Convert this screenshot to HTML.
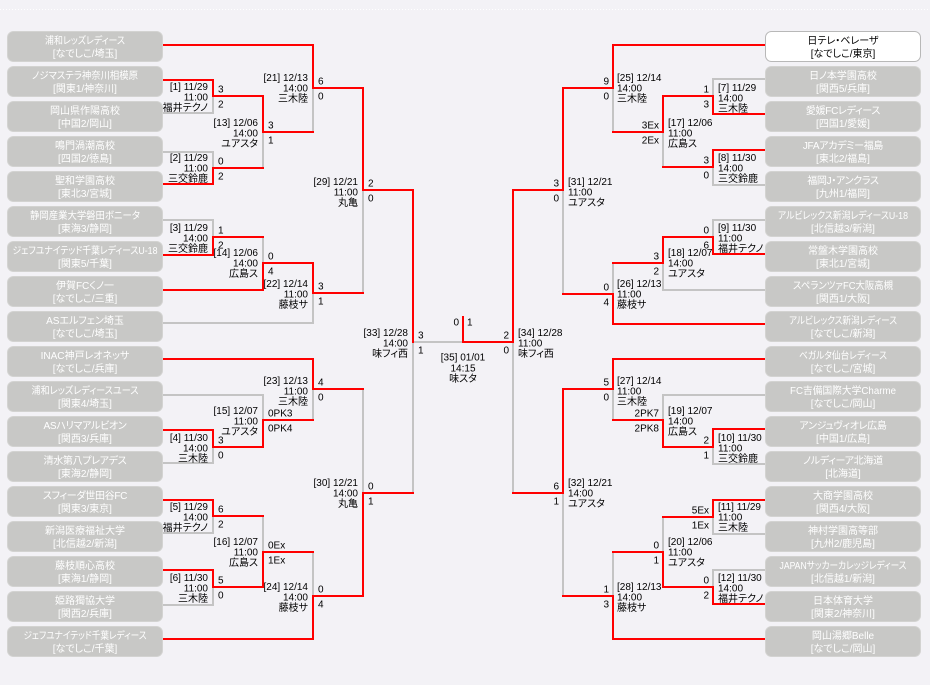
<!DOCTYPE html>
<html><head><meta charset="utf-8">
<style>
html,body{margin:0;padding:0;background:#f3f2f6;}
svg{display:block;}
text{font-family:"Liberation Sans","Noto Sans CJK JP",sans-serif;font-size:10px;fill:#000;font-feature-settings:"palt" 1;}
.e{text-anchor:end}.m{text-anchor:middle}
.t{fill:#fff;text-anchor:middle}
.c{fill:#000;text-anchor:middle}
.g{stroke:#c4c4c4;stroke-width:2;stroke-linecap:square}
.r{stroke:#ff0000;stroke-width:2;stroke-linecap:square}
.bx{fill:#c8c8c6;stroke:#d3d3d1;stroke-width:1}
</style></head><body>
<svg width="930" height="685" viewBox="0 0 930 685" shape-rendering="crispEdges">
<line x1="0" y1="9.5" x2="930" y2="9.5" stroke="#ffffff" stroke-dasharray="1 2" stroke-width="1"/>
<g class="g">
<line x1="163" y1="113" x2="213" y2="113"/><line x1="213" y1="96" x2="213" y2="113"/>
<line x1="163" y1="152" x2="213" y2="152"/><line x1="213" y1="152" x2="213" y2="168"/>
<line x1="163" y1="220" x2="213" y2="220"/><line x1="213" y1="220" x2="213" y2="237"/>
<line x1="163" y1="463" x2="213" y2="463"/><line x1="213" y1="447" x2="213" y2="463"/>
<line x1="163" y1="533" x2="213" y2="533"/><line x1="213" y1="516" x2="213" y2="533"/>
<line x1="163" y1="605" x2="213" y2="605"/><line x1="213" y1="587" x2="213" y2="605"/>
<line x1="263" y1="132" x2="263" y2="168"/>
<line x1="263" y1="237" x2="263" y2="263"/>
<line x1="163" y1="395" x2="263" y2="395"/><line x1="263" y1="395" x2="263" y2="420"/>
<line x1="263" y1="516" x2="263" y2="552"/>
<line x1="313" y1="88" x2="313" y2="132"/>
<line x1="163" y1="323" x2="313" y2="323"/><line x1="313" y1="293" x2="313" y2="323"/>
<line x1="313" y1="389" x2="313" y2="420"/>
<line x1="313" y1="552" x2="313" y2="596"/>
<line x1="363" y1="190" x2="363" y2="293"/>
<line x1="363" y1="389" x2="363" y2="493"/>
<line x1="413" y1="342" x2="413" y2="493"/>
<line x1="413" y1="342" x2="463" y2="342"/>
</g>
<g class="g">
<line x1="713" y1="79" x2="765" y2="79"/><line x1="713" y1="79" x2="713" y2="96"/>
<line x1="713" y1="185" x2="765" y2="185"/><line x1="713" y1="167" x2="713" y2="185"/>
<line x1="713" y1="220" x2="765" y2="220"/><line x1="713" y1="220" x2="713" y2="237"/>
<line x1="713" y1="464" x2="765" y2="464"/><line x1="713" y1="447" x2="713" y2="464"/>
<line x1="713" y1="534" x2="765" y2="534"/><line x1="713" y1="517" x2="713" y2="534"/>
<line x1="713" y1="570" x2="765" y2="570"/><line x1="713" y1="570" x2="713" y2="587"/>
<line x1="663" y1="132" x2="663" y2="167"/>
<line x1="663" y1="290" x2="765" y2="290"/><line x1="663" y1="263" x2="663" y2="290"/>
<line x1="663" y1="395" x2="765" y2="395"/><line x1="663" y1="395" x2="663" y2="420"/>
<line x1="663" y1="517" x2="663" y2="552"/>
<line x1="613" y1="88" x2="613" y2="132"/>
<line x1="613" y1="263" x2="613" y2="294"/>
<line x1="613" y1="389" x2="613" y2="420"/>
<line x1="613" y1="552" x2="613" y2="596"/>
<line x1="563" y1="190" x2="563" y2="294"/>
<line x1="563" y1="493" x2="563" y2="596"/>
<line x1="513" y1="342" x2="513" y2="493"/>
</g>
<g class="r">
<line x1="163" y1="80" x2="213" y2="80"/><line x1="213" y1="80" x2="213" y2="96"/><line x1="213" y1="96" x2="263" y2="96"/>
<line x1="163" y1="184" x2="213" y2="184"/><line x1="213" y1="168" x2="213" y2="184"/><line x1="213" y1="168" x2="263" y2="168"/>
<line x1="163" y1="255" x2="213" y2="255"/><line x1="213" y1="237" x2="213" y2="255"/><line x1="213" y1="237" x2="263" y2="237"/>
<line x1="163" y1="430" x2="213" y2="430"/><line x1="213" y1="430" x2="213" y2="447"/><line x1="213" y1="447" x2="263" y2="447"/>
<line x1="163" y1="500" x2="213" y2="500"/><line x1="213" y1="500" x2="213" y2="516"/><line x1="213" y1="516" x2="263" y2="516"/>
<line x1="163" y1="570" x2="213" y2="570"/><line x1="213" y1="570" x2="213" y2="587"/><line x1="213" y1="587" x2="263" y2="587"/>
<line x1="263" y1="96" x2="263" y2="132"/><line x1="263" y1="132" x2="313" y2="132"/>
<line x1="163" y1="290" x2="263" y2="290"/><line x1="263" y1="263" x2="263" y2="290"/><line x1="263" y1="263" x2="313" y2="263"/>
<line x1="263" y1="420" x2="263" y2="447"/><line x1="263" y1="420" x2="313" y2="420"/>
<line x1="263" y1="552" x2="263" y2="587"/><line x1="263" y1="552" x2="313" y2="552"/>
<line x1="163" y1="45" x2="313" y2="45"/><line x1="313" y1="45" x2="313" y2="88"/><line x1="313" y1="88" x2="363" y2="88"/>
<line x1="313" y1="263" x2="313" y2="293"/><line x1="313" y1="293" x2="363" y2="293"/>
<line x1="163" y1="359" x2="313" y2="359"/><line x1="313" y1="359" x2="313" y2="389"/><line x1="313" y1="389" x2="363" y2="389"/>
<line x1="163" y1="639" x2="313" y2="639"/><line x1="313" y1="596" x2="313" y2="639"/><line x1="313" y1="596" x2="363" y2="596"/>
<line x1="363" y1="88" x2="363" y2="190"/><line x1="363" y1="190" x2="413" y2="190"/>
<line x1="363" y1="493" x2="363" y2="596"/><line x1="363" y1="493" x2="413" y2="493"/>
<line x1="413" y1="190" x2="413" y2="342"/>
<line x1="463" y1="342" x2="513" y2="342"/><line x1="463" y1="317" x2="463" y2="342"/>
</g>
<g class="r">
<line x1="713" y1="114" x2="765" y2="114"/><line x1="713" y1="96" x2="713" y2="114"/><line x1="663" y1="96" x2="713" y2="96"/>
<line x1="713" y1="150" x2="765" y2="150"/><line x1="713" y1="150" x2="713" y2="167"/><line x1="663" y1="167" x2="713" y2="167"/>
<line x1="713" y1="254" x2="765" y2="254"/><line x1="713" y1="237" x2="713" y2="254"/><line x1="663" y1="237" x2="713" y2="237"/>
<line x1="713" y1="429" x2="765" y2="429"/><line x1="713" y1="429" x2="713" y2="447"/><line x1="663" y1="447" x2="713" y2="447"/>
<line x1="713" y1="500" x2="765" y2="500"/><line x1="713" y1="500" x2="713" y2="517"/><line x1="663" y1="517" x2="713" y2="517"/>
<line x1="713" y1="604" x2="765" y2="604"/><line x1="713" y1="587" x2="713" y2="604"/><line x1="663" y1="587" x2="713" y2="587"/>
<line x1="663" y1="96" x2="663" y2="132"/><line x1="613" y1="132" x2="663" y2="132"/>
<line x1="663" y1="237" x2="663" y2="263"/><line x1="613" y1="263" x2="663" y2="263"/>
<line x1="663" y1="420" x2="663" y2="447"/><line x1="613" y1="420" x2="663" y2="420"/>
<line x1="663" y1="552" x2="663" y2="587"/><line x1="613" y1="552" x2="663" y2="552"/>
<line x1="613" y1="45" x2="765" y2="45"/><line x1="613" y1="45" x2="613" y2="88"/><line x1="563" y1="88" x2="613" y2="88"/>
<line x1="613" y1="324" x2="765" y2="324"/><line x1="613" y1="294" x2="613" y2="324"/><line x1="563" y1="294" x2="613" y2="294"/>
<line x1="613" y1="359" x2="765" y2="359"/><line x1="613" y1="359" x2="613" y2="389"/><line x1="563" y1="389" x2="613" y2="389"/>
<line x1="613" y1="639" x2="765" y2="639"/><line x1="613" y1="596" x2="613" y2="639"/><line x1="563" y1="596" x2="613" y2="596"/>
<line x1="563" y1="88" x2="563" y2="190"/><line x1="513" y1="190" x2="563" y2="190"/>
<line x1="563" y1="389" x2="563" y2="493"/><line x1="513" y1="493" x2="563" y2="493"/>
<line x1="513" y1="190" x2="513" y2="342"/>
</g>

<g shape-rendering="auto">
<rect class="bx" x="7.5" y="31.5" width="155" height="30" rx="6"/>
<rect class="bx" x="7.5" y="66.5" width="155" height="30" rx="6"/>
<rect class="bx" x="7.5" y="101.5" width="155" height="30" rx="6"/>
<rect class="bx" x="7.5" y="136.5" width="155" height="30" rx="6"/>
<rect class="bx" x="7.5" y="171.5" width="155" height="30" rx="6"/>
<rect class="bx" x="7.5" y="206.5" width="155" height="30" rx="6"/>
<rect class="bx" x="7.5" y="241.5" width="155" height="30" rx="6"/>
<rect class="bx" x="7.5" y="276.5" width="155" height="30" rx="6"/>
<rect class="bx" x="7.5" y="311.5" width="155" height="30" rx="6"/>
<rect class="bx" x="7.5" y="346.5" width="155" height="30" rx="6"/>
<rect class="bx" x="7.5" y="381.5" width="155" height="30" rx="6"/>
<rect class="bx" x="7.5" y="416.5" width="155" height="30" rx="6"/>
<rect class="bx" x="7.5" y="451.5" width="155" height="30" rx="6"/>
<rect class="bx" x="7.5" y="486.5" width="155" height="30" rx="6"/>
<rect class="bx" x="7.5" y="521.5" width="155" height="30" rx="6"/>
<rect class="bx" x="7.5" y="556.5" width="155" height="30" rx="6"/>
<rect class="bx" x="7.5" y="591.5" width="155" height="30" rx="6"/>
<rect class="bx" x="7.5" y="626.5" width="155" height="30" rx="6"/>
<rect x="765.5" y="31.5" width="155" height="30" rx="6" fill="#ffffff" stroke="#b8b8b8" stroke-width="1"/>
<rect class="bx" x="765.5" y="66.5" width="155" height="30" rx="6"/>
<rect class="bx" x="765.5" y="101.5" width="155" height="30" rx="6"/>
<rect class="bx" x="765.5" y="136.5" width="155" height="30" rx="6"/>
<rect class="bx" x="765.5" y="171.5" width="155" height="30" rx="6"/>
<rect class="bx" x="765.5" y="206.5" width="155" height="30" rx="6"/>
<rect class="bx" x="765.5" y="241.5" width="155" height="30" rx="6"/>
<rect class="bx" x="765.5" y="276.5" width="155" height="30" rx="6"/>
<rect class="bx" x="765.5" y="311.5" width="155" height="30" rx="6"/>
<rect class="bx" x="765.5" y="346.5" width="155" height="30" rx="6"/>
<rect class="bx" x="765.5" y="381.5" width="155" height="30" rx="6"/>
<rect class="bx" x="765.5" y="416.5" width="155" height="30" rx="6"/>
<rect class="bx" x="765.5" y="451.5" width="155" height="30" rx="6"/>
<rect class="bx" x="765.5" y="486.5" width="155" height="30" rx="6"/>
<rect class="bx" x="765.5" y="521.5" width="155" height="30" rx="6"/>
<rect class="bx" x="765.5" y="556.5" width="155" height="30" rx="6"/>
<rect class="bx" x="765.5" y="591.5" width="155" height="30" rx="6"/>
<rect class="bx" x="765.5" y="626.5" width="155" height="30" rx="6"/>
</g>

<g shape-rendering="auto">
<text class="t" x="85" y="44" textLength="80" lengthAdjust="spacingAndGlyphs">浦和レッズレディース</text><text class="t" x="85" y="57">[なでしこ/埼玉]</text>
<text class="t" x="85" y="79" textLength="106" lengthAdjust="spacingAndGlyphs">ノジマステラ神奈川相模原</text><text class="t" x="85" y="92">[関東1/神奈川]</text>
<text class="t" x="85" y="114">岡山県作陽高校</text><text class="t" x="85" y="127">[中国2/岡山]</text>
<text class="t" x="85" y="149">鳴門渦潮高校</text><text class="t" x="85" y="162">[四国2/徳島]</text>
<text class="t" x="85" y="184">聖和学園高校</text><text class="t" x="85" y="197">[東北3/宮城]</text>
<text class="t" x="85" y="219" textLength="110" lengthAdjust="spacingAndGlyphs">静岡産業大学磐田ボニータ</text><text class="t" x="85" y="232">[東海3/静岡]</text>
<text class="t" x="85" y="254" textLength="145" lengthAdjust="spacingAndGlyphs">ジェフユナイテッド千葉レディースU-18</text><text class="t" x="85" y="267">[関東5/千葉]</text>
<text class="t" x="85" y="289">伊賀FCくノ一</text><text class="t" x="85" y="302">[なでしこ/三重]</text>
<text class="t" x="85" y="324">ASエルフェン埼玉</text><text class="t" x="85" y="337">[なでしこ/埼玉]</text>
<text class="t" x="85" y="359">INAC神戸レオネッサ</text><text class="t" x="85" y="372">[なでしこ/兵庫]</text>
<text class="t" x="85" y="394" textLength="107" lengthAdjust="spacingAndGlyphs">浦和レッズレディースユース</text><text class="t" x="85" y="407">[関東4/埼玉]</text>
<text class="t" x="85" y="429" letter-spacing="-0.3">ASハリマアルビオン</text><text class="t" x="85" y="442">[関西3/兵庫]</text>
<text class="t" x="85" y="464" letter-spacing="-0.3">清水第八プレアデス</text><text class="t" x="85" y="477">[東海2/静岡]</text>
<text class="t" x="85" y="499" letter-spacing="-0.3">スフィーダ世田谷FC</text><text class="t" x="85" y="512">[関東3/東京]</text>
<text class="t" x="85" y="534">新潟医療福祉大学</text><text class="t" x="85" y="547">[北信越2/新潟]</text>
<text class="t" x="85" y="569">藤枝順心高校</text><text class="t" x="85" y="582">[東海1/静岡]</text>
<text class="t" x="85" y="604">姫路獨協大学</text><text class="t" x="85" y="617">[関西2/兵庫]</text>
<text class="t" x="85" y="639" textLength="123" lengthAdjust="spacingAndGlyphs">ジェフユナイテッド千葉レディース</text><text class="t" x="85" y="652">[なでしこ/千葉]</text>

<text class="c" x="843" y="44">日テレ・ベレーザ</text><text class="c" x="843" y="57">[なでしこ/東京]</text>
<text class="t" x="843" y="79">日ノ本学園高校</text><text class="t" x="843" y="92">[関西5/兵庫]</text>
<text class="t" x="843" y="114" letter-spacing="-0.3">愛媛FCレディース</text><text class="t" x="843" y="127">[四国1/愛媛]</text>
<text class="t" x="843" y="149" letter-spacing="-0.3">JFAアカデミー福島</text><text class="t" x="843" y="162">[東北2/福島]</text>
<text class="t" x="843" y="184" letter-spacing="-0.3">福岡J・アンクラス</text><text class="t" x="843" y="197">[九州1/福岡]</text>
<text class="t" x="843" y="219" textLength="130" lengthAdjust="spacingAndGlyphs">アルビレックス新潟レディースU-18</text><text class="t" x="843" y="232">[北信越3/新潟]</text>
<text class="t" x="843" y="254">常盤木学園高校</text><text class="t" x="843" y="267">[東北1/宮城]</text>
<text class="t" x="843" y="289" textLength="100" lengthAdjust="spacingAndGlyphs">スペランツァFC大阪高槻</text><text class="t" x="843" y="302">[関西1/大阪]</text>
<text class="t" x="843" y="324" textLength="108" lengthAdjust="spacingAndGlyphs">アルビレックス新潟レディース</text><text class="t" x="843" y="337">[なでしこ/新潟]</text>
<text class="t" x="843" y="359" textLength="88" lengthAdjust="spacingAndGlyphs">ベガルタ仙台レディース</text><text class="t" x="843" y="372">[なでしこ/宮城]</text>
<text class="t" x="843" y="394" textLength="106" lengthAdjust="spacingAndGlyphs">FC吉備国際大学Charme</text><text class="t" x="843" y="407">[なでしこ/岡山]</text>
<text class="t" x="843" y="429" letter-spacing="-0.3">アンジュヴィオレ広島</text><text class="t" x="843" y="442">[中国1/広島]</text>
<text class="t" x="843" y="464" letter-spacing="-0.3">ノルディーア北海道</text><text class="t" x="843" y="477">[北海道]</text>
<text class="t" x="843" y="499">大商学園高校</text><text class="t" x="843" y="512">[関西4/大阪]</text>
<text class="t" x="843" y="534">神村学園高等部</text><text class="t" x="843" y="547">[九州2/鹿児島]</text>
<text class="t" x="843" y="569" textLength="127" lengthAdjust="spacingAndGlyphs">JAPANサッカーカレッジレディース</text><text class="t" x="843" y="582">[北信越1/新潟]</text>
<text class="t" x="843" y="604">日本体育大学</text><text class="t" x="843" y="617">[関東2/神奈川]</text>
<text class="t" x="843" y="639">岡山湯郷Belle</text><text class="t" x="843" y="652">[なでしこ/岡山]</text>

<g class="e">
<text x="208" y="90">[1] 11/29</text><text x="208" y="100.5">11:00</text><text x="208" y="111">福井テクノ</text>
<text x="208" y="161">[2] 11/29</text><text x="208" y="171.5">11:00</text><text x="208" y="182">三交鈴鹿</text>
<text x="208" y="231">[3] 11/29</text><text x="208" y="241.5">14:00</text><text x="208" y="252">三交鈴鹿</text>
<text x="208" y="441">[4] 11/30</text><text x="208" y="451.5">14:00</text><text x="208" y="462">三木陸</text>
<text x="208" y="510">[5] 11/29</text><text x="208" y="520.5">14:00</text><text x="208" y="531">福井テクノ</text>
<text x="208" y="581">[6] 11/30</text><text x="208" y="591.5">11:00</text><text x="208" y="602">三木陸</text>
<text x="258" y="126">[13] 12/06</text><text x="258" y="136.5">14:00</text><text x="258" y="147">ユアスタ</text>
<text x="258" y="256">[14] 12/06</text><text x="258" y="266.5">14:00</text><text x="258" y="277">広島ス</text>
<text x="258" y="414">[15] 12/07</text><text x="258" y="424.5">11:00</text><text x="258" y="435">ユアスタ</text>
<text x="258" y="545">[16] 12/07</text><text x="258" y="555.5">11:00</text><text x="258" y="566">広島ス</text>
<text x="308" y="81">[21] 12/13</text><text x="308" y="91.5">14:00</text><text x="308" y="102">三木陸</text>
<text x="308" y="287">[22] 12/14</text><text x="308" y="297.5">11:00</text><text x="308" y="308">藤枝サ</text>
<text x="308" y="384">[23] 12/13</text><text x="308" y="394.5">11:00</text><text x="308" y="405">三木陸</text>
<text x="308" y="590">[24] 12/14</text><text x="308" y="600.5">14:00</text><text x="308" y="611">藤枝サ</text>
<text x="358" y="185">[29] 12/21</text><text x="358" y="195.5">11:00</text><text x="358" y="206">丸亀</text>
<text x="358" y="486">[30] 12/21</text><text x="358" y="496.5">14:00</text><text x="358" y="507">丸亀</text>
<text x="408" y="336">[33] 12/28</text><text x="408" y="346.5">14:00</text><text x="408" y="357">味フィ西</text>
</g>
<g>
<text x="718" y="91">[7] 11/29</text><text x="718" y="101.5">14:00</text><text x="718" y="112">三木陸</text>
<text x="718" y="161">[8] 11/30</text><text x="718" y="171.5">14:00</text><text x="718" y="182">三交鈴鹿</text>
<text x="718" y="231">[9] 11/30</text><text x="718" y="241.5">11:00</text><text x="718" y="252">福井テクノ</text>
<text x="718" y="441">[10] 11/30</text><text x="718" y="451.5">11:00</text><text x="718" y="462">三交鈴鹿</text>
<text x="718" y="510">[11] 11/29</text><text x="718" y="520.5">11:00</text><text x="718" y="531">三木陸</text>
<text x="718" y="581">[12] 11/30</text><text x="718" y="591.5">14:00</text><text x="718" y="602">福井テクノ</text>
<text x="668" y="126">[17] 12/06</text><text x="668" y="136.5">11:00</text><text x="668" y="147">広島ス</text>
<text x="668" y="256">[18] 12/07</text><text x="668" y="266.5">14:00</text><text x="668" y="277">ユアスタ</text>
<text x="668" y="414">[19] 12/07</text><text x="668" y="424.5">14:00</text><text x="668" y="435">広島ス</text>
<text x="668" y="545">[20] 12/06</text><text x="668" y="555.5">11:00</text><text x="668" y="566">ユアスタ</text>
<text x="617" y="81">[25] 12/14</text><text x="617" y="91.5">14:00</text><text x="617" y="102">三木陸</text>
<text x="617" y="287">[26] 12/13</text><text x="617" y="297.5">11:00</text><text x="617" y="308">藤枝サ</text>
<text x="617" y="384">[27] 12/14</text><text x="617" y="394.5">11:00</text><text x="617" y="405">三木陸</text>
<text x="617" y="590">[28] 12/13</text><text x="617" y="600.5">14:00</text><text x="617" y="611">藤枝サ</text>
<text x="568" y="185">[31] 12/21</text><text x="568" y="195.5">11:00</text><text x="568" y="206">ユアスタ</text>
<text x="568" y="486">[32] 12/21</text><text x="568" y="496.5">14:00</text><text x="568" y="507">ユアスタ</text>
<text x="518" y="336">[34] 12/28</text><text x="518" y="346.5">11:00</text><text x="518" y="357">味フィ西</text>
</g>
<text class="m" x="463" y="360.5">[35] 01/01</text><text class="m" x="463" y="371.5">14:15</text><text class="m" x="463" y="382">味スタ</text>
<text class="e" x="459" y="325.5">0</text><text x="467" y="325.5">1</text>

<g>
<text x="218" y="92.5">3</text><text x="218" y="107.5">2</text>
<text x="218" y="164.5">0</text><text x="218" y="179.5">2</text>
<text x="218" y="233.5">1</text><text x="218" y="248.5">2</text>
<text x="218" y="443.5">3</text><text x="218" y="458.5">0</text>
<text x="218" y="512.5">6</text><text x="218" y="527.5">2</text>
<text x="218" y="583.5">5</text><text x="218" y="598.5">0</text>
<text x="268" y="128.5">3</text><text x="268" y="143.5">1</text>
<text x="268" y="259.5">0</text><text x="268" y="274.5">4</text>
<text x="268" y="416.5">0PK3</text><text x="268" y="431.5">0PK4</text>
<text x="268" y="548.5">0Ex</text><text x="268" y="563.5">1Ex</text>
<text x="318" y="84.5">6</text><text x="318" y="99.5">0</text>
<text x="318" y="289.5">3</text><text x="318" y="304.5">1</text>
<text x="318" y="385.5">4</text><text x="318" y="400.5">0</text>
<text x="318" y="592.5">0</text><text x="318" y="607.5">4</text>
<text x="368" y="186.5">2</text><text x="368" y="201.5">0</text>
<text x="368" y="489.5">0</text><text x="368" y="504.5">1</text>
<text x="418" y="338.5">3</text><text x="418" y="353.5">1</text>
</g>
<g class="e">
<text x="709" y="92.5">1</text><text x="709" y="107.5">3</text>
<text x="709" y="163.5">3</text><text x="709" y="178.5">0</text>
<text x="709" y="233.5">0</text><text x="709" y="248.5">6</text>
<text x="709" y="443.5">2</text><text x="709" y="458.5">1</text>
<text x="709" y="513.5">5Ex</text><text x="709" y="528.5">1Ex</text>
<text x="709" y="583.5">0</text><text x="709" y="598.5">2</text>
<text x="659" y="128.5">3Ex</text><text x="659" y="143.5">2Ex</text>
<text x="659" y="259.5">3</text><text x="659" y="274.5">2</text>
<text x="659" y="416.5">2PK7</text><text x="659" y="431.5">2PK8</text>
<text x="659" y="548.5">0</text><text x="659" y="563.5">1</text>
<text x="609" y="84.5">9</text><text x="609" y="99.5">0</text>
<text x="609" y="290.5">0</text><text x="609" y="305.5">4</text>
<text x="609" y="385.5">5</text><text x="609" y="400.5">0</text>
<text x="609" y="592.5">1</text><text x="609" y="607.5">3</text>
<text x="559" y="186.5">3</text><text x="559" y="201.5">0</text>
<text x="559" y="489.5">6</text><text x="559" y="504.5">1</text>
<text x="509" y="338.5">2</text><text x="509" y="353.5">0</text>
</g>
</g>
</svg>
</body></html>
